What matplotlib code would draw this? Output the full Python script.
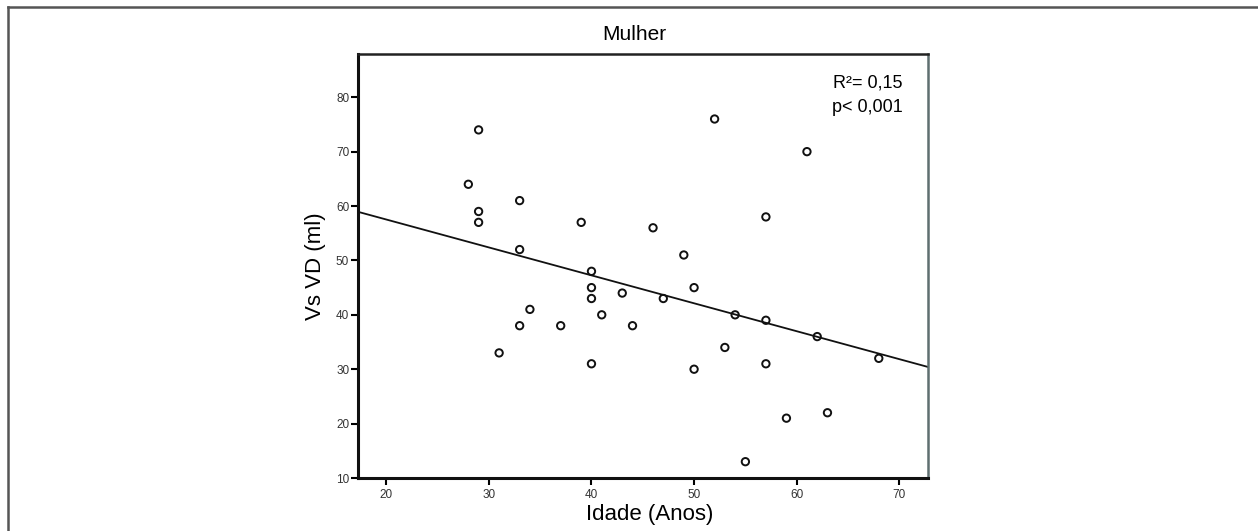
import numpy as np
import matplotlib
matplotlib.use("Agg")
import matplotlib.pyplot as plt
from matplotlib.lines import Line2D

# idade (anos) e Vs VD (ml), mulheres
idade = [28, 29, 29, 29, 31, 33, 33, 33, 34, 37, 39, 40, 40, 40, 40, 41, 43, 44,
         46, 47, 49, 50, 50, 52, 53, 54, 55, 57, 57, 57, 59, 61, 62, 63, 68]
vsvd = [64, 74, 59, 57, 33, 61, 52, 38, 41, 38, 57, 48, 45, 43, 31, 40, 44, 38,
        56, 43, 51, 45, 30, 76, 34, 40, 13, 58, 39, 31, 21, 70, 36, 22, 32]

x_ticks = [20, 30, 40, 50, 60, 70]
y_ticks = [10, 20, 30, 40, 50, 60, 70, 80]

plt.rcParams['font.family'] = ['Liberation Sans', 'DejaVu Sans']

fig = plt.figure(figsize=(12.58, 5.31), dpi=100)
ax = fig.add_axes([0.2842, 0.0998, 0.4535, 0.799])

ax.scatter(idade, vsvd, s=28, facecolors='none', edgecolors='#111111',
           linewidths=1.4, zorder=3)

# reta de regressao
coef = np.polyfit(idade, vsvd, 1)
xl = np.array([17.2, 72.8])
ax.plot(xl, np.polyval(coef, xl), color='#111111', lw=1.3, zorder=2)

ax.set_xlim(17.2, 72.8)
ax.set_ylim(10, 88)
ax.set_xticks(x_ticks)
ax.set_yticks(y_ticks)
ax.tick_params(axis='both', labelsize=8.5, labelcolor='#333333', width=1.5,
               length=5, direction='out', pad=1)
ax.tick_params(axis='x', pad=3)

for s in ['left', 'bottom']:
    ax.spines[s].set_linewidth(2.2)
    ax.spines[s].set_color('#111111')
ax.spines['top'].set_linewidth(1.8)
ax.spines['top'].set_color('#222222')
ax.spines['right'].set_linewidth(1.8)
ax.spines['right'].set_color('#5f6f70')

ax.set_title('Mulher', fontsize=15, pad=10, x=0.485)
ax.set_xlabel('Idade (Anos)', fontsize=16, labelpad=2)
ax.xaxis.label.set_x(0.512)
ax.set_ylabel('Vs VD (ml)', fontsize=16, labelpad=7)

ax.text(0.955, 0.95, 'R\u00b2= 0,15\np< 0,001', transform=ax.transAxes,
        ha='right', va='top', fontsize=13, linespacing=1.55)

# moldura externa (so topo e esquerda)
fig.add_artist(Line2D([0.006, 1.0], [0.986, 0.986], transform=fig.transFigure,
                      color='#555555', lw=1.8))
fig.add_artist(Line2D([0.006, 0.006], [0.0, 0.986], transform=fig.transFigure,
                      color='#555555', lw=1.8))

fig.savefig('out.png', dpi=100)
